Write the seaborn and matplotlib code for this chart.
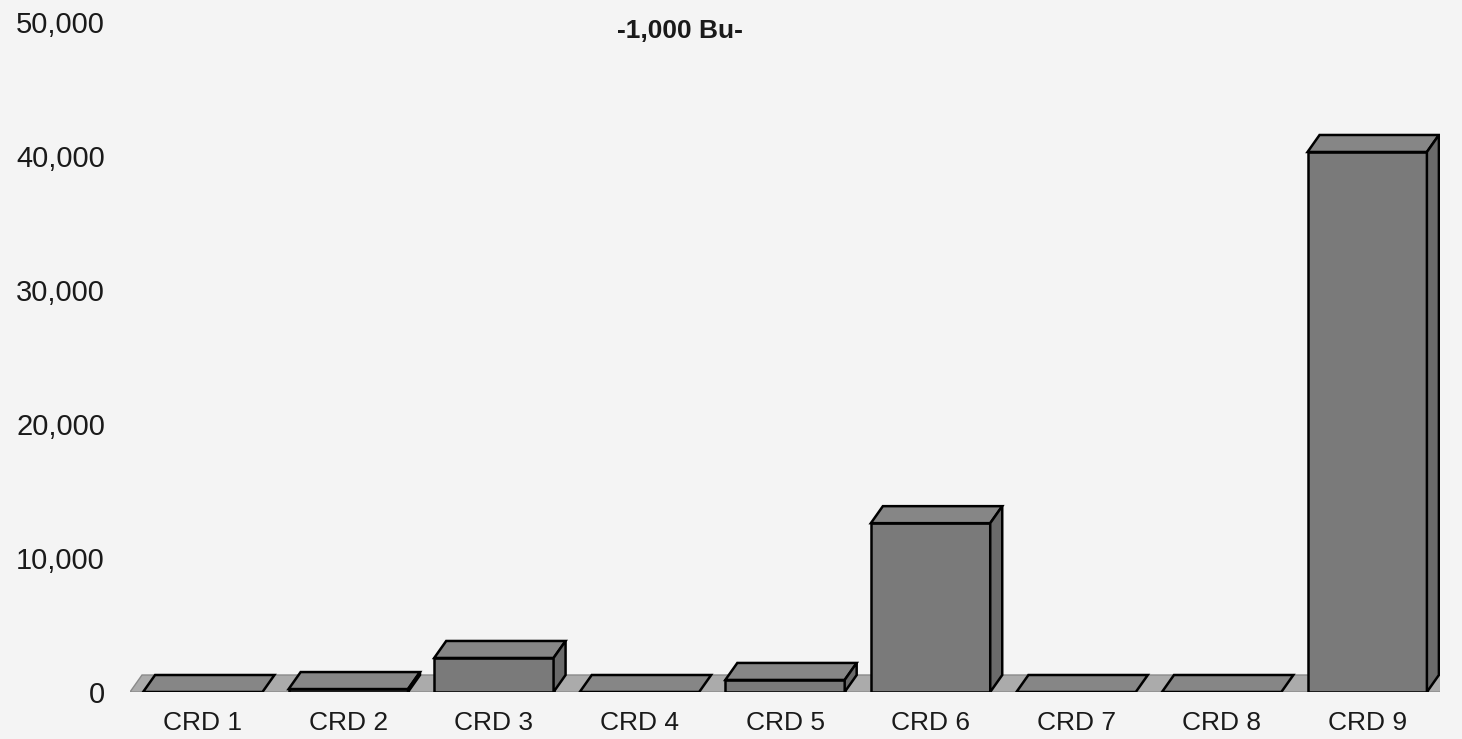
import matplotlib
matplotlib.use("Agg")
import matplotlib.pyplot as plt
from matplotlib.patches import Polygon
from matplotlib.transforms import IdentityTransform
import seaborn as sns

districts = ["CRD 1", "CRD 2", "CRD 3", "CRD 4", "CRD 5", "CRD 6", "CRD 7", "CRD 8", "CRD 9"]
bushels = [0, 220, 2540, 0, 900, 12600, 0, 0, 40300]
y_ticks = [0, 10000, 20000, 30000, 40000, 50000]
subtitle = "-1,000 Bu-"

sns.set_theme(style="white")
plt.rcParams["font.family"] = ["Liberation Sans", "DejaVu Sans"]

fig = plt.figure(figsize=(14.62, 7.39), dpi=100)
fig.patch.set_facecolor("#f4f4f4")
ax = fig.add_axes([130 / 1462, 47 / 739, 1310 / 1462, 692 / 739])
ax.set_facecolor("none")

sns.barplot(x=districts, y=bushels, color="#7a7a7a", width=0.82, saturation=1,
            edgecolor="black", linewidth=1.8, ax=ax, zorder=3)
ax.set_xlim(-0.5, 8.5)
ax.set_ylim(0, 692 / 13.4 * 1000)

# fake 3D depth, in pixels
dx, dy = 12, 17

def shift(p):
    return (p[0] + dx, p[1] + dy)

td = ax.transData
f0 = td.transform((-0.5, 0))
f1 = td.transform((8.5, 0))
ax.add_patch(Polygon([f0, f1, shift(f1), shift(f0)], closed=True,
                     transform=IdentityTransform(), facecolor="#ababab",
                     edgecolor="#8a8a8a", linewidth=1, zorder=1))

for bar in ax.patches[:len(districts)]:
    x0, w, h = bar.get_x(), bar.get_width(), bar.get_height()
    fl = td.transform((x0, h))
    fr = td.transform((x0 + w, h))
    br = td.transform((x0 + w, 0))
    ax.add_patch(Polygon([fl, fr, shift(fr), shift(fl)], closed=True,
                         transform=IdentityTransform(), facecolor="#868686",
                         edgecolor="black", linewidth=1.8, zorder=4))
    if h > 0:
        ax.add_patch(Polygon([fr, br, shift(br), shift(fr)], closed=True,
                             transform=IdentityTransform(), facecolor="#6a6a6a",
                             edgecolor="black", linewidth=1.8, zorder=4))

ax.set_yticks(y_ticks)
ax.set_yticklabels([f"{v:,}" for v in y_ticks])
ax.tick_params(axis="y", length=0, labelsize=21, pad=18, colors="#1a1a1a")
ax.tick_params(axis="x", length=0, labelsize=19, pad=14, colors="#1a1a1a")
ax.set_xlabel("")
ax.set_ylabel("")
for s in ax.spines.values():
    s.set_visible(False)

fig.text(680 / 1462, 1 - 31 / 739, subtitle, ha="center", va="center",
         fontsize=19, fontweight="bold", color="#1a1a1a")

fig.savefig("out.png", dpi=100, facecolor=fig.get_facecolor())
